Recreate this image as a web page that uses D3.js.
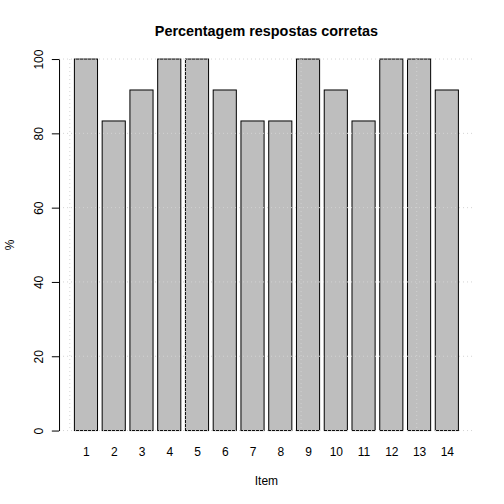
<!DOCTYPE html>
<html>
<head>
<meta charset="utf-8">
<script src="https://cdn.jsdelivr.net/npm/d3@7"></script>
<style>
  body { margin: 0; background: #fff; }
  text { font-family: "Liberation Sans", Arial, Helvetica, sans-serif; }
</style>
</head>
<body>
<svg width="504" height="504"></svg>
<script>
var items = ["1","2","3","4","5","6","7","8","9","10","11","12","13","14"];
var percent = [100, 83.33, 91.67, 100, 100, 91.67, 83.33, 83.33, 100, 91.67, 83.33, 100, 100, 91.67];
var yTicks = [0, 20, 40, 60, 80, 100];
var xGrid = [0, 5, 10, 15];

var width = 504, height = 504;
var plotLeft = 59.04, plotRight = 473.76, plotTop = 59.04, plotBottom = 430.56;

var svg = d3.select("svg")
    .attr("width", width)
    .attr("height", height);

// barplot user coords: bar i spans 0.2+1.2i .. 1.2+1.2i
var x = d3.scaleLinear().domain([-0.464, 17.464]).range([plotLeft, plotRight]);
var y = d3.scaleLinear().domain([0, 100]).range([plotBottom, plotTop]);

svg.selectAll("rect.bar")
    .data(percent)
    .enter().append("rect")
    .attr("class", "bar")
    .attr("x", function(d, i) { return x(0.2 + 1.2 * i); })
    .attr("width", function() { return x(1) - x(0); })
    .attr("y", function(d) { return y(d); })
    .attr("height", function(d) { return y(0) - y(d); })
    .style("fill", "#bebebe")
    .style("stroke", "#000")
    .style("stroke-width", 1);

// grid on top, like grid() after barplot
svg.selectAll("line.hgrid")
    .data(yTicks)
    .enter().append("line")
    .attr("class", "hgrid")
    .attr("x1", plotLeft).attr("x2", plotRight)
    .attr("y1", function(d) { return y(d); })
    .attr("y2", function(d) { return y(d); })
    .style("stroke", "#d3d3d3")
    .style("stroke-dasharray", "1,3");

svg.selectAll("line.vgrid")
    .data(xGrid)
    .enter().append("line")
    .attr("class", "vgrid")
    .attr("x1", function(d) { return x(d); })
    .attr("x2", function(d) { return x(d); })
    .attr("y1", plotTop).attr("y2", plotBottom)
    .style("stroke", "#d3d3d3")
    .style("stroke-dasharray", "1,3");

var yAxis = svg.append("g")
    .attr("transform", "translate(" + plotLeft + ",0)")
    .call(d3.axisLeft(y).tickValues(yTicks).tickSize(7.2).tickSizeOuter(0));
yAxis.selectAll("path, line").style("stroke", "#000");
yAxis.selectAll("text")
    .attr("transform", "rotate(-90)")
    .attr("x", 0).attr("y", -16).attr("dy", 0)
    .attr("text-anchor", "middle")
    .style("font-size", "12px")
    .style("fill", "#000");

var xAxis = svg.append("g")
    .attr("transform", "translate(0," + plotBottom + ")")
    .call(d3.axisBottom(x)
        .tickValues(items.map(function(d, i) { return 0.7 + 1.2 * i; }))
        .tickFormat(function(d, i) { return items[i]; })
        .tickSize(0));
xAxis.select(".domain").remove();
xAxis.selectAll("text")
    .attr("y", 25.5).attr("dy", 0)
    .style("font-size", "12px")
    .style("fill", "#000");

svg.append("text")
    .attr("x", (plotLeft + plotRight) / 2).attr("y", 36)
    .attr("text-anchor", "middle")
    .style("font-size", "14.4px")
    .style("font-weight", "bold")
    .text("Percentagem respostas corretas");

svg.append("text")
    .attr("x", (plotLeft + plotRight) / 2).attr("y", 485)
    .attr("text-anchor", "middle")
    .style("font-size", "12px")
    .text("Item");

svg.append("text")
    .attr("transform", "translate(14," + ((plotTop + plotBottom) / 2) + ") rotate(-90)")
    .attr("text-anchor", "middle")
    .style("font-size", "12px")
    .text("%");
</script>
</body>
</html>
